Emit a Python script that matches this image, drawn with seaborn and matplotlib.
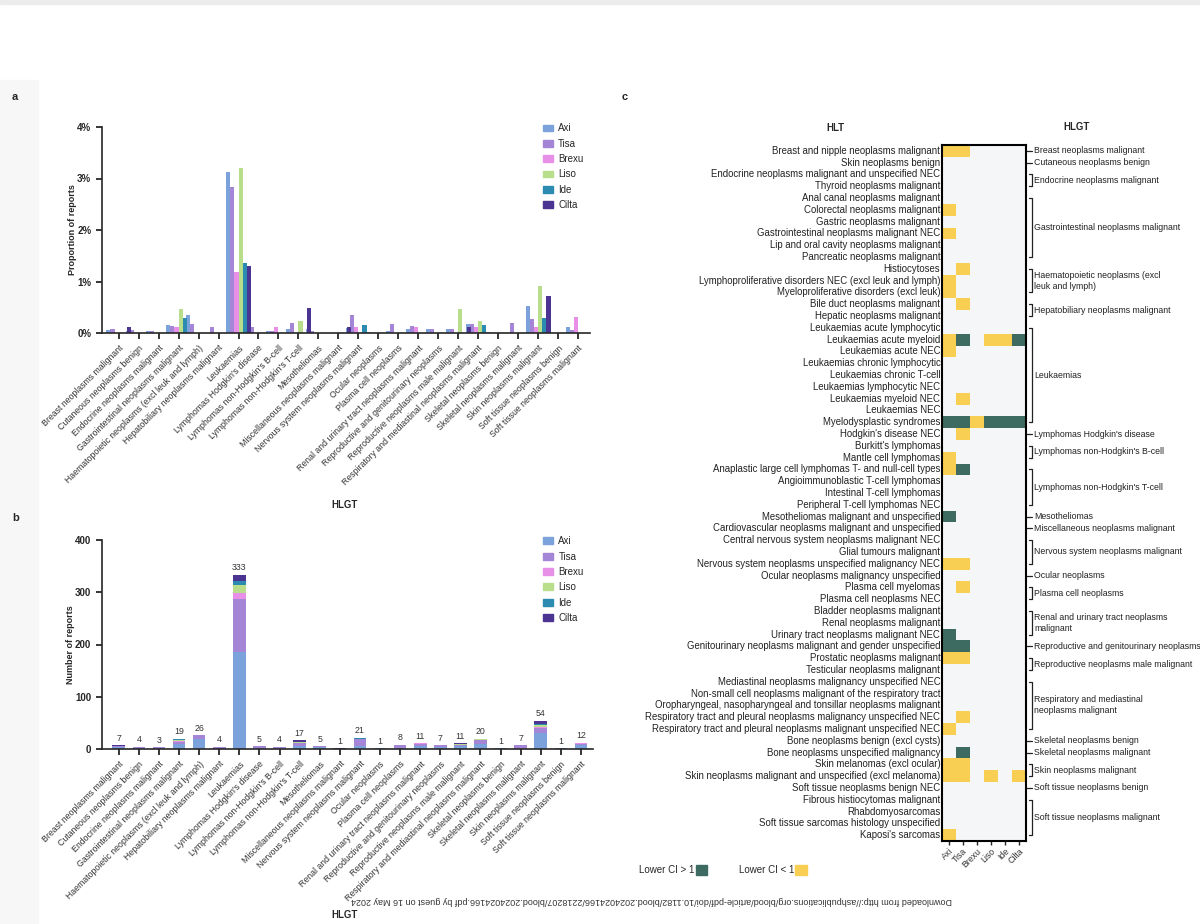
import numpy as np
import pandas as pd
import seaborn as sns
import matplotlib.pyplot as plt
import matplotlib.transforms as mtransforms
from matplotlib.colors import ListedColormap
from matplotlib.patches import Patch, Rectangle

# drugs and their colours
drugs = ['Axi', 'Tisa', 'Brexu', 'Liso', 'Ide', 'Cilta']
drug_colors = ['#7ba2da', '#a485d6', '#e88fe7', '#b8de8b', '#2b8bb0', '#4c3592']

# HLGT categories for panels a and b
hlgt = ['Breast neoplasms malignant', 'Cutaneous neoplasms benign',
        'Endocrine neoplasms malignant', 'Gastrointestinal neoplasms malignant',
        'Haematopoietic neoplasms (excl leuk and lymph)',
        'Hepatobiliary neoplasms malignant', 'Leukaemias',
        "Lymphomas Hodgkin's disease", "Lymphomas non-Hodgkin's B-cell",
        "Lymphomas non-Hodgkin's T-cell", 'Mesotheliomas',
        'Miscellaneous neoplasms malignant', 'Nervous system neoplasms malignant',
        'Ocular neoplasms', 'Plasma cell neoplasms',
        'Renal and urinary tract neoplasms malignant',
        'Reproductive and genitourinary neoplasms',
        'Reproductive neoplasms male malignant',
        'Respiratory and mediastinal neoplasms malignant',
        'Skeletal neoplasms benign', 'Skeletal neoplasms malignant',
        'Skin neoplasms malignant', 'Soft tissue neoplasms benign',
        'Soft tissue neoplasms malignant']

# panel a: proportion of reports (%)
axi_pct = [0.05, 0.03, 0.03, 0.15, 0.34, 0, 3.13, 0.02, 0.03, 0.08, 0.07, 0,
           0.10, 0.02, 0.03, 0.08, 0.07, 0.08, 0.17, 0.02, 0, 0.52, 0.02, 0.12]
tisa_pct = [0.08, 0.05, 0.03, 0.14, 0.17, 0.11, 2.83, 0.11, 0.03, 0.20, 0.03, 0,
            0.35, 0, 0.17, 0.14, 0.08, 0.08, 0.18, 0, 0.19, 0.27, 0, 0.05]
brexu_pct = [0, 0, 0, 0.11, 0, 0, 1.18, 0, 0.11, 0, 0, 0,
             0.11, 0, 0, 0.11, 0, 0, 0.11, 0, 0, 0.11, 0, 0.32]
liso_pct = [0, 0, 0, 0.46, 0, 0, 3.20, 0, 0, 0.23, 0, 0,
            0, 0, 0, 0, 0, 0.46, 0.23, 0, 0, 0.91, 0, 0]
ide_pct = [0, 0, 0, 0.30, 0, 0, 1.36, 0, 0, 0, 0, 0,
           0.15, 0, 0, 0, 0, 0, 0.15, 0, 0, 0.30, 0, 0]
cilta_pct = [0.12, 0, 0, 0, 0, 0, 1.31, 0, 0, 0.48, 0, 0.12,
             0, 0, 0, 0, 0, 0.12, 0, 0, 0, 0.71, 0, 0]

# panel b: number of reports
axi_n = [3, 2, 2, 9, 20, 0, 186, 1, 2, 5, 4, 0, 6, 1, 2, 5, 4, 5, 10, 1, 0, 31, 1, 7]
tisa_n = [3, 2, 1, 5, 6, 4, 102, 4, 1, 7, 1, 0, 13, 0, 6, 5, 3, 3, 7, 0, 7, 10, 0, 2]
brexu_n = [0, 0, 0, 1, 0, 0, 11, 0, 1, 0, 0, 0, 1, 0, 0, 1, 0, 0, 1, 0, 0, 1, 0, 3]
liso_n = [0, 0, 0, 2, 0, 0, 14, 0, 0, 1, 0, 0, 0, 0, 0, 0, 0, 2, 1, 0, 0, 4, 0, 0]
ide_n = [0, 0, 0, 2, 0, 0, 9, 0, 0, 0, 0, 0, 1, 0, 0, 0, 0, 0, 1, 0, 0, 2, 0, 0]
cilta_n = [1, 0, 0, 0, 0, 0, 11, 0, 0, 4, 0, 1, 0, 0, 0, 0, 0, 1, 0, 0, 0, 6, 0, 0]

# panel c: HLT rows, signal per drug ('.' none, 'y' lower CI < 1, 'g' lower CI > 1)
hlt = ['Breast and nipple neoplasms malignant', 'Skin neoplasms benign',
       'Endocrine neoplasms malignant and unspecified NEC', 'Thyroid neoplasms malignant',
       'Anal canal neoplasms malignant', 'Colorectal neoplasms malignant',
       'Gastric neoplasms malignant', 'Gastrointestinal neoplasms malignant NEC',
       'Lip and oral cavity neoplasms malignant', 'Pancreatic neoplasms malignant',
       'Histiocytoses', 'Lymphoproliferative disorders NEC (excl leuk and lymph)',
       'Myeloproliferative disorders (excl leuk)', 'Bile duct neoplasms malignant',
       'Hepatic neoplasms malignant', 'Leukaemias acute lymphocytic',
       'Leukaemias acute myeloid', 'Leukaemias acute NEC',
       'Leukaemias chronic lymphocytic', 'Leukaemias chronic T-cell',
       'Leukaemias lymphocytic NEC', 'Leukaemias myeloid NEC', 'Leukaemias NEC',
       'Myelodysplastic syndromes', "Hodgkin's disease NEC", "Burkitt's lymphomas",
       'Mantle cell lymphomas', 'Anaplastic large cell lymphomas T- and null-cell types',
       'Angioimmunoblastic T-cell lymphomas', 'Intestinal T-cell lymphomas',
       'Peripheral T-cell lymphomas NEC', 'Mesotheliomas malignant and unspecified',
       'Cardiovascular neoplasms malignant and unspecified',
       'Central nervous system neoplasms malignant NEC', 'Glial tumours malignant',
       'Nervous system neoplasms unspecified malignancy NEC',
       'Ocular neoplasms malignancy unspecified', 'Plasma cell myelomas',
       'Plasma cell neoplasms NEC', 'Bladder neoplasms malignant',
       'Renal neoplasms malignant', 'Urinary tract neoplasms malignant NEC',
       'Genitourinary neoplasms malignant and gender unspecified',
       'Prostatic neoplasms malignant', 'Testicular neoplasms malignant',
       'Mediastinal neoplasms malignancy unspecified NEC',
       'Non-small cell neoplasms malignant of the respiratory tract',
       'Oropharyngeal, nasopharyngeal and tonsillar neoplasms malignant',
       'Respiratory tract and pleural neoplasms malignancy unspecified NEC',
       'Respiratory tract and pleural neoplasms malignant unspecified NEC',
       'Bone neoplasms benign (excl cysts)', 'Bone neoplasms unspecified malignancy',
       'Skin melanomas (excl ocular)',
       'Skin neoplasms malignant and unspecified (excl melanoma)',
       'Soft tissue neoplasms benign NEC', 'Fibrous histiocytomas malignant',
       'Rhabdomyosarcomas', 'Soft tissue sarcomas histology unspecified',
       "Kaposi's sarcomas"]
hlt_signal = ['yy....', '......', '......', '......', '......', 'y.....', '......',
              'y.....', '......', '......', '.y....', 'y.....', 'y.....', '.y....',
              '......', '......', 'yg.yyg', 'y.....', '......', '......', '......',
              '.y....', '......', 'ggyggg', '.y....', '......', 'y.....', 'yg....',
              '......', '......', '......', 'g.....', '......', '......', '......',
              'yy....', '......', '.y....', '......', '......', '......', 'g.....',
              'gg....', 'yy....', '......', '......', '......', '......', '.y....',
              'y.....', '......', '.g....', 'yy....', 'yy.y.y', '......', '......',
              '......', '......', 'y.....']

# HLGT groups on the right of panel c
group_labels = ['Breast neoplasms malignant', 'Cutaneous neoplasms benign',
                'Endocrine neoplasms malignant', 'Gastrointestinal neoplasms malignant',
                'Haematopoietic neoplasms (excl\nleuk and lymph)',
                'Hepatobiliary neoplasms malignant', 'Leukaemias',
                "Lymphomas Hodgkin's disease", "Lymphomas non-Hodgkin's B-cell",
                "Lymphomas non-Hodgkin's T-cell", 'Mesotheliomas',
                'Miscellaneous neoplasms malignant', 'Nervous system neoplasms malignant',
                'Ocular neoplasms', 'Plasma cell neoplasms',
                'Renal and urinary tract neoplasms\nmalignant',
                'Reproductive and genitourinary neoplasms',
                'Reproductive neoplasms male malignant',
                'Respiratory and mediastinal\nneoplasms malignant',
                'Skeletal neoplasms benign', 'Skeletal neoplasms malignant',
                'Skin neoplasms malignant', 'Soft tissue neoplasms benign',
                'Soft tissue neoplasms malignant']
group_sizes = [1, 1, 2, 6, 3, 2, 9, 1, 2, 4, 1, 1, 3, 1, 2, 3, 1, 2, 5, 1, 1, 2, 1, 4]

sig_bg, sig_low, sig_high = '#f4f6f8', '#f8cf52', '#3d6b61'

sns.set_theme(style='ticks')
plt.rcParams['font.family'] = ['Liberation Sans', 'DejaVu Sans']
plt.rcParams['axes.linewidth'] = 1.2

fig = plt.figure(figsize=(12, 9.24), dpi=100)
W, H = 1200, 924


def fig_box(x0, y_top, x1, y_bot):
    return [x0 / W, 1 - y_bot / H, (x1 - x0) / W, (y_bot - y_top) / H]


# page background like the pdf screenshot
fig.patches.append(Rectangle((0, 0), 38 / W, 1 - 80 / H, transform=fig.transFigure,
                             color='#f7f7f7', zorder=-5))
fig.patches.append(Rectangle((0, 1 - 4 / H), 1, 4 / H, transform=fig.transFigure,
                             color='#ececec', zorder=-5))

tick_font = dict(fontsize=6.3, color='#333333')


def style_bar_axis(ax):
    sns.despine(ax=ax)
    ax.set_xlim(-0.85, 23.6)
    ax.tick_params(axis='both', length=4, width=1.1, color='black')
    ax.set_xticks(range(len(hlgt)))
    ax.set_xticklabels(hlgt, rotation=45, ha='right', rotation_mode='anchor', **tick_font)
    ax.set_xlabel('')
    for lab in ax.get_yticklabels():
        lab.set_fontweight('bold')
        lab.set_fontsize(7)


# ---- panel a ----
ax_a = fig.add_axes(fig_box(101.7, 127, 590, 333))
df_a = pd.DataFrame({
    'HLGT': np.tile(hlgt, len(drugs)),
    'Drug': np.repeat(drugs, len(hlgt)),
    'Proportion': np.concatenate([axi_pct, tisa_pct, brexu_pct, liso_pct,
                                  ide_pct, cilta_pct]),
})
sns.barplot(data=df_a, x='HLGT', y='Proportion', hue='Drug', order=hlgt,
            hue_order=drugs, palette=drug_colors, width=1.25, gap=0, saturation=1,
            linewidth=0, legend=False, ax=ax_a)
ax_a.set_ylim(0, 4)
ax_a.set_yticks([0, 1, 2, 3, 4])
ax_a.set_yticklabels(['0%', '1%', '2%', '3%', '4%'])
style_bar_axis(ax_a)
ax_a.set_ylabel('Proportion of reports', fontsize=6.5, fontweight='bold')
ax_a.yaxis.set_label_coords(-0.05, 0.5)

handles = [Patch(color=c, label=d) for d, c in zip(drugs, drug_colors)]
ax_a.legend(handles=handles, loc='upper left', bbox_to_anchor=(0.885, 1.06),
            frameon=False, fontsize=7, handlelength=1.1, handleheight=0.7,
            labelspacing=0.55, handletextpad=0.5)

# ---- panel b ----
ax_b = fig.add_axes(fig_box(101.7, 540, 593, 749))
counts = np.array([axi_n, tisa_n, brexu_n, liso_n, ide_n, cilta_n])
stacked = counts.cumsum(axis=0)
for i in range(len(drugs) - 1, -1, -1):
    sns.barplot(x=hlgt, y=stacked[i], order=hlgt, color=drug_colors[i], width=0.63,
                saturation=1, linewidth=0, ax=ax_b)
totals = stacked[-1]
for i, t in enumerate(totals):
    ax_b.text(i, t + 5, str(t), ha='center', va='bottom', fontsize=6.3, color='#333333')
ax_b.set_ylim(0, 400)
ax_b.set_yticks([0, 100, 200, 300, 400])
style_bar_axis(ax_b)
ax_b.set_ylabel('Number of reports', fontsize=6.5, fontweight='bold')
ax_b.yaxis.set_label_coords(-0.055, 0.5)
ax_b.legend(handles=handles, loc='upper left', bbox_to_anchor=(0.88, 1.06),
            frameon=False, fontsize=7, handlelength=1.1, handleheight=0.7,
            labelspacing=0.55, handletextpad=0.5)

fig.text(345 / W, 1 - 505 / H, 'HLGT', ha='center', va='center', fontsize=7,
         fontweight='bold')
fig.text(345 / W, 1 - 915 / H, 'HLGT', ha='center', va='center', fontsize=7,
         fontweight='bold')

# ---- panel c ----
ax_c = fig.add_axes(fig_box(941.7, 145, 1026, 841))
code = {'.': 0, 'y': 1, 'g': 2}
mat = pd.DataFrame([[code[c] for c in s] for s in hlt_signal], index=hlt, columns=drugs)
sns.heatmap(mat, cmap=ListedColormap([sig_bg, sig_low, sig_high]), vmin=-0.5, vmax=2.5,
            cbar=False, linewidths=0, xticklabels=True, yticklabels=True, ax=ax_c)
for s in ax_c.spines.values():
    s.set_visible(True)
    s.set_color('black')
    s.set_linewidth(1.5)
ax_c.tick_params(axis='y', length=0, pad=1, labelsize=6.9, labelcolor='#222222')
ax_c.tick_params(axis='x', length=3, width=1, pad=1, labelsize=6.3, labelcolor='#333333')
plt.setp(ax_c.get_xticklabels(), rotation=45, ha='right', rotation_mode='anchor')
ax_c.set_xlabel('')
ax_c.set_ylabel('')

trans = mtransforms.blended_transform_factory(ax_c.transAxes, ax_c.transData)
start = 0
for lab, n in zip(group_labels, group_sizes):
    y0, y1 = start + 0.5, start + n - 0.5
    if n == 1:
        ax_c.plot([1.0, 1.076], [y0, y0], color='#222222', lw=0.9, transform=trans,
                  clip_on=False)
    else:
        ax_c.plot([1.035, 1.076, 1.076, 1.035], [y0, y0, y1, y1], color='#222222',
                  lw=0.9, transform=trans, clip_on=False)
    ax_c.text(1.1, (y0 + y1) / 2, lab, transform=trans, ha='left', va='center',
              fontsize=6.3, color='#222222', linespacing=1.3, clip_on=False)
    start += n

fig.text(835 / W, 1 - 128 / H, 'HLT', ha='center', va='center', fontsize=7,
         fontweight='bold')
fig.text(1077 / W, 1 - 127 / H, 'HLGT', ha='center', va='center', fontsize=7,
         fontweight='bold')

fig.legend(handles=[Patch(color=sig_high, label='Lower CI > 1'),
                    Patch(color=sig_low, label='Lower CI < 1')],
           ncol=2, markerfirst=False, frameon=False, loc='center',
           bbox_to_anchor=(723 / W, 1 - 870 / H), fontsize=7, columnspacing=3.2,
           handlelength=1.2, handleheight=1.2, handletextpad=0.1)

# panel letters
for letter, x, y in [('a', 12, 97), ('b', 12, 518), ('c', 622, 97)]:
    fig.text(x / W, 1 - y / H, letter, ha='left', va='center', fontsize=8,
             fontweight='bold')

fig.text(652 / W, 1 - 900 / H,
         'Downloaded from http://ashpublications.org/blood/article-pdf/doi/10.1182/'
         'blood.2024024166/2218207/blood.2024024166.pdf by guest on 16 May 2024',
         rotation=180, ha='center', va='center', fontsize=6.5, color='#333333')

fig.savefig('out.png', dpi=100, facecolor='white')
